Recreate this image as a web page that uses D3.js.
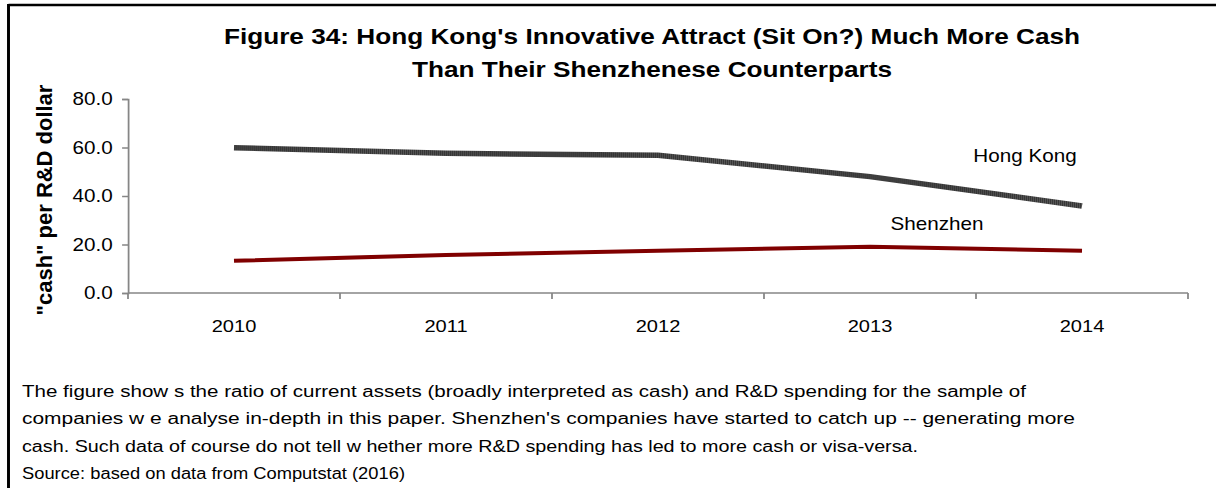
<!DOCTYPE html>
<html>
<head>
<meta charset="utf-8">
<script src="https://cdn.jsdelivr.net/npm/d3@7"></script>
<style>
    html, body { margin: 0; padding: 0; background: #fff; }
    svg { display: block; font-family: "Liberation Sans", Arial, sans-serif; }
</style>
</head>
<body>
<svg id="chart"></svg>
<script>
const years = ["2010", "2011", "2012", "2013", "2014"];
const hongKong = [59.9, 57.6, 56.8, 48.0, 35.9];
const shenzhen = [13.3, 15.7, 17.4, 19.1, 17.4];
const yTicks = [0, 20, 40, 60, 80];
const titleLines = [
    "Figure 34: Hong Kong's Innovative Attract (Sit On?) Much More Cash",
    "Than Their Shenzhenese Counterparts",
];
const noteLines = [
    "The figure show s the ratio of current assets (broadly interpreted as cash) and R&D spending for the sample of",
    "companies w e analyse in-depth in this paper. Shenzhen's companies have started to catch up -- generating more",
    "cash. Such data of course do not tell w hether more R&D spending has led to more cash or visa-versa.",
    "Source: based on data from Computstat (2016)",
];
// how wide each footnote line is set in the picture (px)
const noteWidths = [1004, 1053, 896, 383];

// the reference is stretched sideways, so draw in a narrower box and let the svg widen it
const W = 1216, H = 488, stretch = 1.18;
const vw = W / stretch;
const svg = d3.select("#chart")
    .attr("width", W)
    .attr("height", H)
    .attr("viewBox", `0 0 ${vw} ${H}`)
    .attr("preserveAspectRatio", "none");

// frame: only top and left edges show
svg.append("line")
    .attr("x1", 8.5 / stretch).attr("x2", vw).attr("y1", 5).attr("y2", 5)
    .attr("stroke", "#000").attr("stroke-width", 2.5);
svg.append("line")
    .attr("x1", 8.5 / stretch).attr("x2", 8.5 / stretch).attr("y1", 4).attr("y2", H)
    .attr("stroke", "#000").attr("stroke-width", 2.5);

const x = d3.scaleBand().domain(years).range([128 / stretch, 1188 / stretch]);
const y = d3.scaleLinear().domain([0, 80]).range([293, 99]);

// title
svg.append("g")
    .selectAll("text")
    .data(titleLines)
    .join("text")
    .attr("x", 652 / stretch)
    .attr("y", (d, i) => 44 + i * 33)
    .attr("text-anchor", "middle")
    .attr("font-size", 22.2)
    .attr("font-weight", "bold")
    .text((d) => d);

// y axis
const yAxis = svg.append("g")
    .attr("transform", `translate(${x.range()[0]},0)`)
    .call(d3.axisLeft(y).tickValues(yTicks).tickFormat(d3.format(".1f")).tickSize(5).tickPadding(8));
yAxis.attr("font-family", null);
yAxis.selectAll("text").attr("font-size", 17.5).attr("fill", "#000");
yAxis.selectAll("line, path").attr("stroke", "#868686").attr("stroke-width", 1.5);

// x axis: line, ticks at category borders, labels at category centres
const xAxis = svg.append("g").attr("transform", `translate(0,${y(0)})`);
xAxis.append("line")
    .attr("x1", x.range()[0]).attr("x2", x.range()[1])
    .attr("stroke", "#868686").attr("stroke-width", 1.5);
const edges = years.map((d) => x(d)).concat([x.range()[1]]);
xAxis.selectAll(".edge")
    .data(edges)
    .join("line")
    .attr("class", "edge")
    .attr("x1", (d) => d).attr("x2", (d) => d)
    .attr("y1", 0).attr("y2", 6)
    .attr("stroke", "#868686").attr("stroke-width", 1.5);
xAxis.selectAll(".year")
    .data(years)
    .join("text")
    .attr("class", "year")
    .attr("x", (d) => x(d) + x.bandwidth() / 2)
    .attr("y", 39)
    .attr("text-anchor", "middle")
    .attr("font-size", 17)
    .text((d) => d);

// y title, longer along its run than the plain font gives
svg.append("text")
    .attr("transform", `translate(${52 / stretch},200) rotate(-90) scale(1.15,1)`)
    .attr("text-anchor", "middle")
    .attr("font-size", 19.1)
    .attr("font-weight", "bold")
    .text('"cash" per R&D dollar');

// hatched look of the Hong Kong line
const defs = svg.append("defs");
const pat = defs.append("pattern")
    .attr("id", "hatch")
    .attr("patternUnits", "userSpaceOnUse")
    .attr("width", 1.7).attr("height", 4);
pat.append("rect").attr("width", 1.7).attr("height", 4).attr("fill", "#353535");
pat.append("rect").attr("width", 0.6).attr("height", 4).attr("fill", "#565656");

const line = d3.line()
    .x((d, i) => x(years[i]) + x.bandwidth() / 2)
    .y((d) => y(d));

svg.append("path")
    .datum(hongKong)
    .attr("d", line)
    .attr("fill", "none")
    .attr("stroke", "url(#hatch)")
    .attr("stroke-width", 5.5);

svg.append("path")
    .datum(shenzhen)
    .attr("d", line)
    .attr("fill", "none")
    .attr("stroke", "#800000")
    .attr("stroke-width", 4);

// series labels
svg.append("text")
    .attr("x", 1025 / stretch).attr("y", 162)
    .attr("text-anchor", "middle")
    .attr("font-size", 17.5)
    .text("Hong Kong");
svg.append("text")
    .attr("x", 937 / stretch).attr("y", 230)
    .attr("text-anchor", "middle")
    .attr("font-size", 17.5)
    .text("Shenzhen");

// footnote
svg.append("g")
    .selectAll("text")
    .data(noteLines)
    .join("text")
    .attr("x", 22 / stretch)
    .attr("y", (d, i) => 397 + i * 27.3)
    .attr("font-size", 17.3)
    .attr("textLength", (d, i) => noteWidths[i] / stretch)
    .attr("lengthAdjust", "spacingAndGlyphs")
    .text((d) => d);
</script>
</body>
</html>
